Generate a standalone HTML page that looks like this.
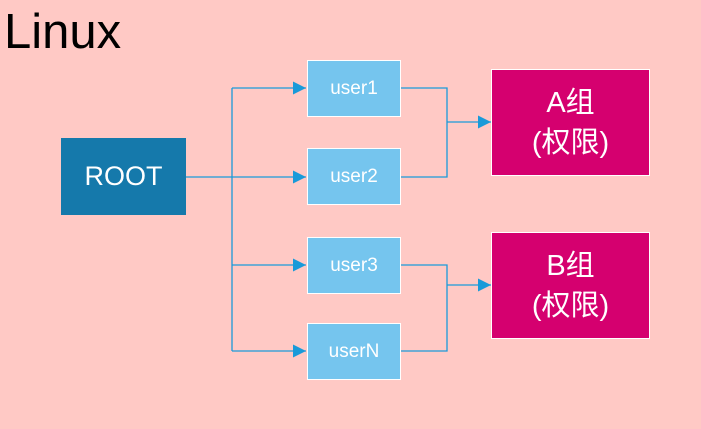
<!DOCTYPE html>
<html><head><meta charset="utf-8"><style>
body{margin:0;width:701px;height:429px;background:#ffc9c5;position:relative;overflow:hidden;font-family:"Liberation Sans","Noto Sans CJK SC",sans-serif}
.t{position:absolute;left:4px;top:4px;font-size:49px;color:#000}
.b{position:absolute;display:flex;align-items:center;justify-content:center;color:#fff;text-align:center;box-sizing:border-box}
.u{background:#75c5ee;border:1px solid #fff;font-size:19px;width:94px}
.g{background:#d5006f;border:1px solid #fff;font-size:29px;line-height:40px;width:159px;height:107px}
</style></head><body>
<div class="t">Linux</div>
<svg width="701" height="429" style="position:absolute;left:0;top:0">
<defs><marker id="a" markerWidth="14" markerHeight="14" refX="13" refY="6.5" orient="auto" markerUnits="userSpaceOnUse"><path d="M0,0L13,6.5L0,13z" fill="#1a9ad9"/></marker></defs>
<g stroke="#1a9ad9" stroke-width="1.3" fill="none">
<path d="M186,177H306" marker-end="url(#a)"/>
<path d="M232,88V351"/>
<path d="M232,88H306" marker-end="url(#a)"/>
<path d="M232,265H306" marker-end="url(#a)"/>
<path d="M232,351H306" marker-end="url(#a)"/>
<path d="M400,88H447V177H400"/>
<path d="M447,122H491" marker-end="url(#a)"/>
<path d="M400,265H447V351H400"/>
<path d="M447,285H491" marker-end="url(#a)"/>
</g></svg>
<div class="b" style="left:61px;top:138px;width:125px;height:77px;background:#1579ab;font-size:27px">ROOT</div>
<div class="b u" style="left:307px;top:60px;height:57px">user1</div>
<div class="b u" style="left:307px;top:148px;height:57px">user2</div>
<div class="b u" style="left:307px;top:237px;height:57px">user3</div>
<div class="b u" style="left:307px;top:323px;height:57px">userN</div>
<div class="b g" style="left:491px;top:69px">A组<br>(权限)</div>
<div class="b g" style="left:491px;top:232px">B组<br>(权限)</div>
</body></html>
